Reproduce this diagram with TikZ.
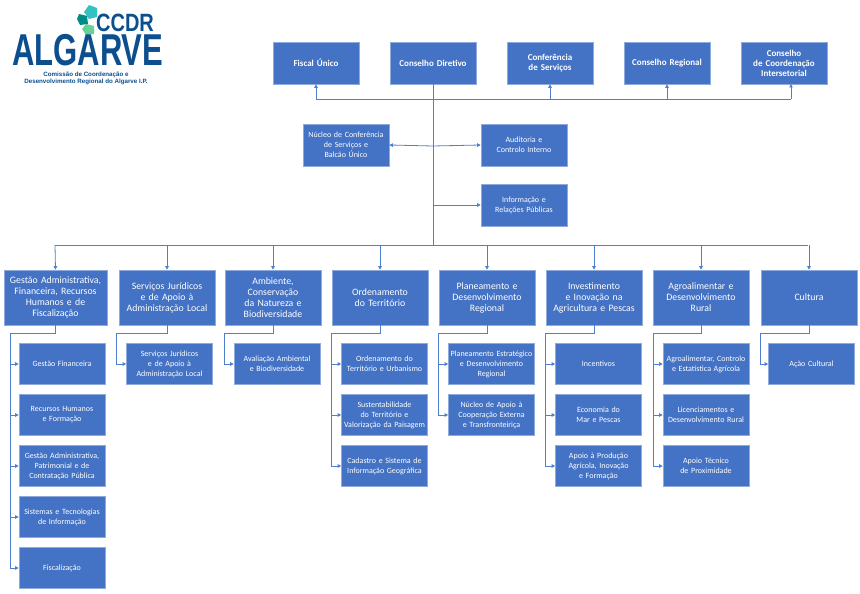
\documentclass[tikz,border=0pt]{standalone}
\usepackage{fontspec}
\setmainfont{Carlito}
\newfontfamily\logofont{Liberation Sans}
\usetikzlibrary{arrows.meta,shapes.geometric}
\definecolor{bx}{HTML}{4472C4}
\definecolor{bd}{HTML}{8FAADC}
\definecolor{ln}{HTML}{4F7FD0}
\definecolor{lg}{HTML}{0B4F8E}
\tikzset{
 box/.style={draw=bd,fill=bx,line width=0.6pt,text=white,align=center,inner sep=1pt},
 top/.style={box,minimum width=86pt,minimum height=42pt,text width=76pt,font=\fontsize{9}{10}\selectfont\bfseries\hyphenpenalty10000},
 mid/.style={box,minimum width=86pt,minimum height=42pt,text width=82pt,font=\fontsize{8}{10}\selectfont\hyphenpenalty10000},
 lv/.style={box,minimum width=96pt,minimum height=55pt,text width=93pt,font=\fontsize{9.8}{11}\selectfont\hyphenpenalty10000},
 sub/.style={box,minimum width=86pt,minimum height=41pt,text width=84pt,font=\fontsize{8}{10}\selectfont\hyphenpenalty10000},
 con/.style={draw=ln,line width=0.8pt},
 arr/.style={con,-{Triangle[length=3.5pt,width=3.5pt]}}
}
\begin{document}
\begin{tikzpicture}[x=1pt,y=-1pt]
\useasboundingbox (0,0) rectangle (860,594);
% logo
\fill[teal!60!cyan!80!white] (89,5) -- (97,8) -- (97,17) -- (89,19) -- (84,12) -- cycle;
\fill[teal!70!black!70!cyan] (79,14) -- (87,16) -- (88,24) -- (80,25) -- (77,19) -- cycle;
\fill[green!40!teal!60!white] (86,24) -- (94,26) -- (94,34) -- (86,35) -- (82,29) -- cycle;
\node[anchor=south west,inner sep=0,text=lg,xscale=0.8,font=\logofont\fontsize{25}{25}\selectfont\bfseries] (ccdr) at (96,32) {CCDR};
\node[anchor=south west,inner sep=0,text=lg,xscale=0.66,yscale=0.95,font=\logofont\fontsize{47}{47}\selectfont\bfseries] (alg) at (12,66.5) {ALGARVE};
\node[anchor=base,inner sep=0,text=lg,font=\logofont\fontsize{6.2}{7}\selectfont\bfseries] (s1) at (86,76.5) {Comissão de Coordenação e};
\node[anchor=base,inner sep=0,text=lg,font=\logofont\fontsize{6.2}{7}\selectfont\bfseries] (s2) at (86,84) {Desenvolvimento Regional do Algarve I.P.};
% top row
\node[top] (fu) at (316,63) {Fiscal Único};
\node[top] (cd) at (433,63) {Conselho Diretivo};
\node[top] (cs) at (550,63) {Conferência de Serviços};
\node[top] (cr) at (667,63) {Conselho Regional};
\node[top] (ci) at (784,63) {Conselho\\ de  Coordenação Intersetorial};
\coordinate (hl) at (316,99); \coordinate (hr) at (791,99);
\draw[con] (hl) -- (hr);
\draw[arr] (hl) -- (fu.south);
\draw[arr] (550,99) -- (cs.south);
\draw[arr] (667,99) -- (cr.south);
\draw[arr] (hr) -- (791,84);
% staff
\node[mid] (nc) at (346,145) {Núcleo de Conferência de Serviços e Balcão Único};
\node[mid,text width=76pt] (au) at (524,145) {Auditoria e Controlo Interno};
\node[mid,text width=80pt] (ir) at (524,205) {Informação e Relações Públicas};
\coordinate (sp) at (433,245);
\draw[con] (cd.south) -- (sp);
\draw[arr] (433,146) -- (nc.east);
\draw[arr] (433,146) -- (au.west);
\draw[arr] (433,205) -- (ir.west);
% level 2
\draw[con] (55,245) -- (808,245);
\node[lv,minimum width=103pt,text width=92pt] (g) at (55.5,297.5) {Gestão Administrativa, Financeira, Recursos Humanos e de Fiscalização};
\draw[arr] (55,245) -- (g.north);
\foreach \n/\x/\t in {
 j/167/{Serviços Jurídicos e de Apoio à Administração Local},
 a/273/{Ambiente, Conservação da Natureza e Biodiversidade},
 o/380/{Ordenamento do Território},
 p/487/{Planeamento e Desenvolvimento Regional},
 i/594/{Investimento e Inovação na Agricultura e Pescas},
 r/701/{Agroalimentar e Desenvolvimento Rural},
 c/809/{Cultura}}{
 \node[lv] (\n) at (\x,297.5) {\t};
 \draw[arr] (\x,245) -- (\n.north);
}
% sub boxes
\newcommand{\subcol}[5]{%
 \draw[con] (#1.south) -- ++(0,8) -| (#2,#5);
 \foreach \n/\y/\t in {#4}{
  \node[sub] (\n) at (#3,\y) {\t};
  \draw[arr] (#2,\y) -- (\n.west);
 }
}
\subcol{g}{10}{62}{g1/364/{Gestão Financeira}, g2/415/{Recursos Humanos e Formação}, g3/466/{Gestão Administrativa, Patrimonial e de Contratação Pública}, g4/517/{Sistemas e Tecnologias de Informação}, g5/568/{Fiscalização}}{568}
\subcol{j}{116}{169.5}{j1/364/{Serviços Jurídicos e de Apoio à Administração Local}}{364}
\subcol{a}{224}{277}{a1/364/{Avaliação Ambiental e Biodiversidade}}{364}
\subcol{o}{331}{384.5}{o1/364/{Ordenamento do Território e Urbanismo}, o2/415/{Sustentabilidade do Território e Valorização da Paisagem}, o3/466/{Cadastro e Sistema de Informação Geográfica}}{466}
\subcol{p}{438}{491.5}{p1/364/{Planeamento Estratégico e Desenvolvimento Regional}, p2/415/{Núcleo de Apoio à Cooperação Externa e Transfronteiriça}}{415}
\subcol{i}{545}{598.5}{i1/364/{Incentivos}, i2/415/{Economia do Mar e Pescas}, i3/466/{Apoio à Produção Agrícola, Inovação e Formação}}{466}
\subcol{r}{653}{706}{r1/364/{Agroalimentar, Controlo e Estatística Agrícola}, r2/415/{Licenciamentos e Desenvolvimento Rural}, r3/466/{Apoio Técnico de Proximidade}}{466}
\subcol{c}{760}{811.5}{c1/364/{Ação Cultural}}{364}
\end{tikzpicture}
\end{document}
